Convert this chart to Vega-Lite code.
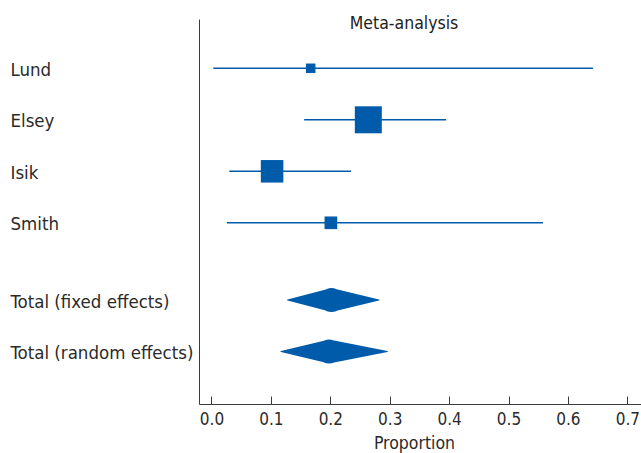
{
  "$schema": "https://vega.github.io/schema/vega-lite/v6.json",
  "width": 442,
  "height": 385,
  "autosize": "none",
  "padding": {"left": 199, "top": 19, "right": 0, "bottom": 49},
  "background": "white",
  "config": {
    "view": {"stroke": null},
    "font": "DejaVu Sans Condensed"
  },
  "title": {
    "text": "Meta-analysis",
    "font": "DejaVu Sans Condensed",
    "fontSize": 17.5,
    "fontWeight": "normal",
    "color": "#222222",
    "anchor": "middle",
    "baseline": "alphabetic",
    "offset": -7,
    "dy": 20,
    "dx": -16
  },
  "data": {
    "values": [
      {"label": "Lund", "row": 1, "kind": "study", "est": 0.167, "lo": 0.003, "hi": 0.642, "weight": 6.1},
      {"label": "Elsey", "row": 2, "kind": "study", "est": 0.264, "lo": 0.156, "hi": 0.395, "weight": 49.0},
      {"label": "Isik", "row": 3, "kind": "study", "est": 0.102, "lo": 0.030, "hi": 0.235, "weight": 34.1},
      {"label": "Smith", "row": 4, "kind": "study", "est": 0.201, "lo": 0.026, "hi": 0.558, "weight": 10.8},
      {"label": "Total (fixed effects)", "row": 5.5, "kind": "total", "est": 0.202, "lo": 0.128, "hi": 0.282},
      {"label": "Total (random effects)", "row": 6.5, "kind": "total", "est": 0.198, "lo": 0.117, "hi": 0.296}
    ]
  },
  "encoding": {
    "y": {
      "field": "row",
      "type": "quantitative",
      "scale": {"domain": [0.043, 7.518], "reverse": true, "zero": false, "nice": false},
      "axis": {
        "title": null,
        "values": [1, 2, 3, 4, 5.5, 6.5],
        "labelExpr": "datum.value == 1 ? 'Lund' : datum.value == 2 ? 'Elsey' : datum.value == 3 ? 'Isik' : datum.value == 4 ? 'Smith' : datum.value == 5.5 ? 'Total (fixed effects)' : 'Total (random effects)'",
        "grid": false,
        "ticks": false,
        "tickSize": 0,
        "domain": true,
        "domainColor": "#3a3a3a",
        "domainWidth": 1,
        "labelAlign": "left",
        "labelBaseline": "middle",
        "labelPadding": 189,
        "labelOffset": 1,
        "labelLimit": 0,
        "labelFont": "DejaVu Sans Condensed",
        "labelFontSize": 18.5,
        "labelColor": "#2a2a2a",
        "labelOverlap": false,
        "labelFlush": false,
        "labelBound": false
      }
    }
  },
  "layer": [
    {
      "transform": [{"filter": "datum.kind === 'study'"}],
      "mark": {"type": "rule", "strokeWidth": 1.5, "color": "#005BAB"},
      "encoding": {
        "x": {
          "field": "lo",
          "type": "quantitative",
          "title": "Proportion",
          "scale": {"domain": [-0.021, 0.723], "zero": false, "nice": false},
          "axis": {
            "title": "Proportion",
            "values": [0, 0.1, 0.2, 0.3, 0.4, 0.5, 0.6, 0.7],
            "format": ".1f",
            "grid": false,
            "tickSize": -8,
            "tickColor": "#3a3a3a",
            "tickWidth": 1,
            "domainColor": "#3a3a3a",
            "domainWidth": 1,
            "labelPadding": 15,
            "labelFont": "DejaVu Sans Condensed",
            "labelFontSize": 17,
            "labelColor": "#2a2a2a",
            "labelFlush": false,
            "labelOverlap": false,
            "titleFont": "DejaVu Sans Condensed",
            "titleFontSize": 17.5,
            "titleFontWeight": "normal",
            "titleColor": "#2a2a2a",
            "titleX": 215,
            "titleY": 44.5,
            "titleAlign": "center",
            "titleBaseline": "alphabetic"
          }
        },
        "x2": {"field": "hi"}
      }
    },
    {
      "transform": [{"filter": "datum.kind === 'study'"}],
      "mark": {"type": "square", "color": "#005BAB", "opacity": 1},
      "encoding": {
        "x": {"field": "est", "type": "quantitative", "title": "Proportion"},
        "size": {
          "field": "weight",
          "type": "quantitative",
          "scale": {"domain": [0, 49], "range": [0, 729], "zero": true},
          "legend": null
        }
      }
    },
    {
      "transform": [
        {"filter": "datum.kind === 'total'"},
        {"fold": ["lo", "est", "hi"], "as": ["key", "value"]}
      ],
      "mark": {"type": "trail", "color": "#005BAB"},
      "encoding": {
        "x": {"field": "value", "type": "quantitative", "title": "Proportion"},
        "detail": {"field": "label"},
        "size": {"condition": {"test": "datum.key === 'est'", "value": 24}, "value": 0}
      }
    }
  ]
}
